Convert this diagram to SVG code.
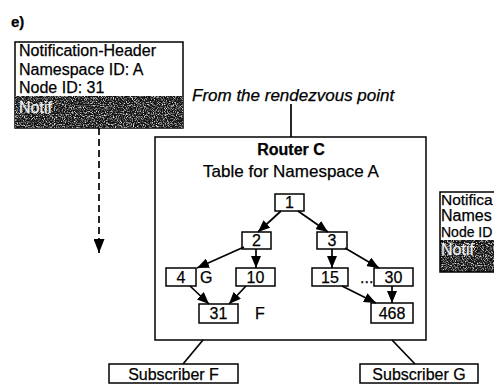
<svg xmlns="http://www.w3.org/2000/svg" width="494" height="385" viewBox="0 0 494 385">
  <style>
    text { font-family: "Liberation Sans", Arial, sans-serif; fill: #000; stroke: #000; stroke-width: 0.25; }
    .lbl { font-size: 16px; }
    .light { fill: #f2f2f2; stroke: #f2f2f2; }
    .node rect { fill: #fff; stroke: #000; stroke-width: 1.5; }
    .node text { font-size: 16px; text-anchor: middle; }
    .box { fill: #fff; stroke: #000; stroke-width: 1.5; }
    .band { fill: #111; }
    .edge { stroke: #000; stroke-width: 1.7; fill: none; }
    .arr { marker-end: url(#head); }
  </style>
  <defs>
    <marker id="head" markerUnits="userSpaceOnUse" markerWidth="12" markerHeight="10" refX="12" refY="5" orient="auto">
      <path d="M0,0 L12,5 L0,10 z" fill="#000"/>
    </marker>
    <marker id="headLarge" markerUnits="userSpaceOnUse" markerWidth="14" markerHeight="11" refX="14" refY="5.5" orient="auto">
      <path d="M0,0 L14,5.5 L0,11 z" fill="#000"/>
    </marker>
    <filter id="grain" x="0" y="0" width="100%" height="100%">
      <feTurbulence type="fractalNoise" baseFrequency="0.9" numOctaves="2" seed="7" result="n"/>
      <feColorMatrix in="n" type="matrix" values="0 0 0 0 0.75  0 0 0 0 0.75  0 0 0 0 0.75  3.2 0 0 0 -1.45" result="speck"/>
      <feComposite in="speck" in2="SourceGraphic" operator="in"/>
    </filter>
  </defs>

  <!-- panel label -->
  <text x="11" y="27" style="font-size:15px;font-weight:bold">e)</text>

  <!-- notification arriving at the router -->
  <g id="notification-left">
    <rect class="box" x="15" y="42" width="168" height="86"/>
    <rect class="band" x="15" y="96" width="168" height="32"/>
    <rect x="15" y="96" width="168" height="32" fill="#fff" filter="url(#grain)"/>
    <text class="lbl" x="19" y="56">Notification-Header</text>
    <text class="lbl" x="19" y="75">Namespace ID: A</text>
    <text class="lbl" x="19" y="93">Node ID: 31</text>
    <text class="lbl light" x="19" y="113">Notif</text>
  </g>

  <!-- notification leaving the router, running off the right edge -->
  <g id="notification-right">
    <rect x="440" y="192" width="54" height="80" fill="#fff"/>
    <rect class="band" x="440" y="240" width="54" height="32"/>
    <rect x="440" y="240" width="54" height="32" fill="#fff" filter="url(#grain)"/>
    <path d="M494,192 H440 V272 H494" fill="none" stroke="#000" stroke-width="1.5"/>
    <text x="441" y="205" style="font-size:15.5px">Notifica</text>
    <text class="lbl" x="441" y="221">Names</text>
    <text x="441" y="237" style="font-size:14px">Node ID</text>
    <text class="lbl light" x="441" y="255">Notif</text>
  </g>

  <!-- router with its namespace table -->
  <g id="router-c">
    <rect class="box" x="155" y="137" width="271" height="203"/>
    <text x="291" y="155" style="font-size:16px;font-weight:bold;text-anchor:middle">Router C</text>
    <text x="291" y="177" style="font-size:17px;text-anchor:middle">Table for Namespace A</text>
  </g>

  <text x="192" y="101" style="font-size:17px;font-style:italic">From the rendezvous point</text>

  <g id="n1" class="node"><rect x="275" y="194" width="29" height="17"/><text x="289.5" y="208">1</text></g>
  <g id="n2" class="node"><rect x="242" y="232" width="29" height="17"/><text x="256.5" y="246">2</text></g>
  <g id="n3" class="node"><rect x="317" y="232" width="30" height="17"/><text x="332" y="246">3</text></g>
  <g id="n4" class="node"><rect x="166" y="268" width="30" height="18"/><text x="181" y="283">4</text></g>
  <g id="n10" class="node"><rect x="236" y="268" width="39" height="18"/><text x="255.5" y="283">10</text></g>
  <g id="n15" class="node"><rect x="312" y="268" width="36" height="18"/><text x="330" y="283">15</text></g>
  <g id="n30" class="node"><rect x="374" y="268" width="39" height="18"/><text x="393.5" y="283">30</text></g>
  <g id="n31" class="node"><rect x="199" y="304" width="39" height="19"/><text x="218.5" y="319">31</text></g>
  <g id="n468" class="node"><rect x="371" y="303" width="42" height="20"/><text x="392" y="319">468</text></g>

  <text class="lbl" x="200" y="283">G</text>
  <text class="lbl" x="255" y="319">F</text>
  <text class="lbl" x="360" y="283">...</text>

  <g id="subscriber-f" class="node"><rect x="109" y="364" width="129" height="19"/><text x="173.5" y="380">Subscriber F</text></g>
  <g id="subscriber-g" class="node"><rect x="360" y="364" width="118" height="19"/><text x="419" y="380">Subscriber G</text></g>

  <g id="connectors">
    <line class="edge" x1="99" y1="128" x2="99" y2="253" stroke-width="2.2" stroke-dasharray="7,4" marker-end="url(#headLarge)"/>
    <line class="edge" x1="291" y1="104" x2="291" y2="137"/>
    <line class="edge arr" x1="281" y1="211" x2="258" y2="232"/>
    <line class="edge arr" x1="298" y1="211" x2="328" y2="232"/>
    <line class="edge arr" x1="244" y1="247" x2="197" y2="268"/>
    <line class="edge arr" x1="256" y1="249" x2="256" y2="268"/>
    <line class="edge arr" x1="332" y1="249" x2="332" y2="268"/>
    <line class="edge arr" x1="345" y1="248" x2="379" y2="268"/>
    <line class="edge arr" x1="190" y1="286" x2="209" y2="304"/>
    <line class="edge arr" x1="246" y1="286" x2="229" y2="304"/>
    <line class="edge arr" x1="342" y1="286" x2="376" y2="303"/>
    <line class="edge arr" x1="392" y1="286" x2="392" y2="303"/>
    <line class="edge" x1="203" y1="340" x2="183" y2="364"/>
    <line class="edge" x1="392" y1="340" x2="415" y2="364"/>
  </g>
</svg>
